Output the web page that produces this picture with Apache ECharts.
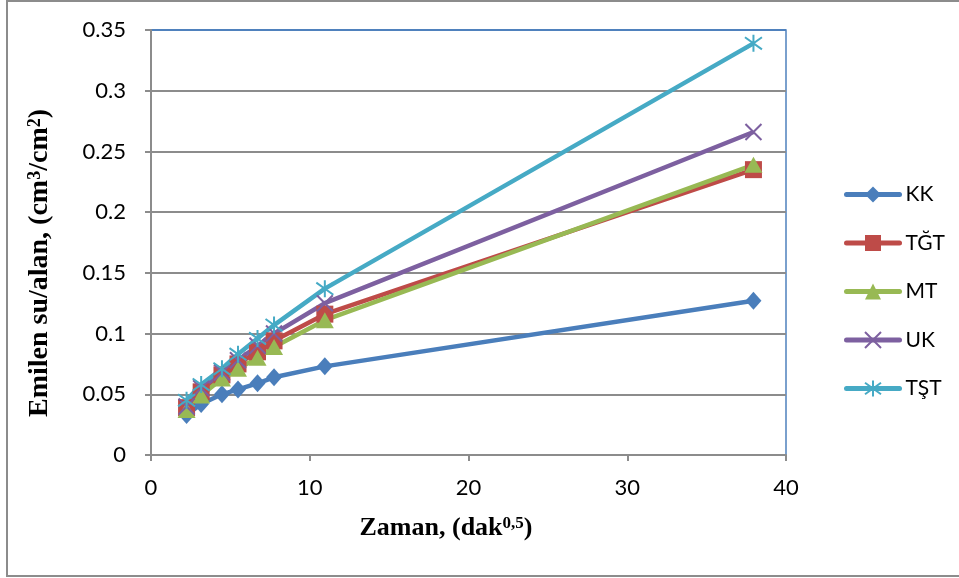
<!DOCTYPE html>
<html>
<head>
<meta charset="utf-8">
<script src="https://cdn.jsdelivr.net/npm/echarts@6/dist/echarts.min.js"></script>
<style>
  html, body { margin: 0; padding: 0; background: #fff; }
  #chart { width: 959px; height: 578px; }
</style>
</head>
<body>
<div id="chart"></div>
<script>
// Square root of elapsed time (dak^0.5)
const zaman = [2.24, 3.16, 4.47, 5.48, 6.71, 7.75, 10.95, 37.95];

// Absorbed water per area (cm3/cm2) for each sample
const KK  = [0.033, 0.042, 0.050, 0.054, 0.059, 0.064, 0.073, 0.127];
const TGT = [0.039, 0.052, 0.066, 0.075, 0.085, 0.094, 0.116, 0.235];
const MT  = [0.037, 0.049, 0.063, 0.071, 0.080, 0.089, 0.111, 0.239];
const UK  = [0.040, 0.055, 0.068, 0.078, 0.090, 0.100, 0.125, 0.266];
const TST = [0.045, 0.058, 0.071, 0.083, 0.096, 0.107, 0.137, 0.339];

const seriesNames = ['KK', 'TĞT', 'MT', 'UK', 'TŞT'];
const seriesValues = [KK, TGT, MT, UK, TST];

const colors = ['#4A7EBB', '#BE4B48', '#98B954', '#7D60A0', '#46AAC5'];
const symbols = [
  'diamond',
  'rect',
  'triangle',
  'path://M0,0L10,10M10,0L0,10',
  'path://M0,0L10,10M10,0L0,10M5,-2L5,12'
];
const symbolSizes = [[16, 18], 17, [18, 16], 16, 17];

const pairs = vals => zaman.map((x, i) => [x, vals[i]]);

const series = seriesNames.map((name, k) => ({
  name: name,
  type: 'line',
  data: pairs(seriesValues[k]),
  symbol: symbols[k],
  symbolSize: symbolSizes[k],
  showAllSymbol: true,
  lineStyle: { color: colors[k], width: 4.5 },
  itemStyle: k >= 3
    ? { color: colors[k], borderColor: colors[k], borderWidth: 2 }
    : { color: colors[k], borderWidth: 0 },
  emphasis: { disabled: true },
  animation: false
}));

// gridline colours: the topmost one coincides with the blue plot border
const gridColors = ['#8C8C8C', '#8C8C8C', '#8C8C8C', '#8C8C8C', '#8C8C8C', '#8C8C8C', '#8C8C8C', '#4F81BD'];

const chart = echarts.init(document.getElementById('chart'), null, { renderer: 'canvas' });
chart.setOption({
  backgroundColor: '#ffffff',
  animation: false,
  textStyle: { fontFamily: 'Lato' },
  grid: {
    left: 151, top: 30, right: 173, bottom: 123,
    show: true, borderColor: '#4F81BD', borderWidth: 1.5, backgroundColor: 'transparent'
  },
  xAxis: {
    type: 'value', min: 0, max: 40, interval: 10,
    axisLine: { show: true, lineStyle: { color: '#8C8C8C', width: 2 } },
    axisTick: { show: true, length: 6, lineStyle: { color: '#8C8C8C', width: 2 } },
    axisLabel: { color: '#000', fontSize: 22, fontFamily: 'Lato', margin: 22 },
    splitLine: { show: false }
  },
  yAxis: {
    type: 'value', min: 0, max: 0.35, interval: 0.05,
    axisLine: { show: true, lineStyle: { color: '#8C8C8C', width: 2 } },
    axisTick: { show: true, length: 6, lineStyle: { color: '#8C8C8C', width: 2 } },
    axisLabel: { color: '#000', fontSize: 22, fontFamily: 'Lato', margin: 25 },
    splitLine: { show: true, lineStyle: { color: gridColors, width: 2 } }
  },
  legend: {
    orient: 'vertical',
    left: 839, top: 179,
    itemWidth: 53, itemHeight: 20, itemGap: 27.5,
    lineStyle: { width: 5, cap: 'round' },
    textStyle: { fontSize: 21, fontFamily: 'Lato', color: '#000', padding: [0, 0, 0, 1] },
    data: seriesNames
  },
  graphic: [
    {
      type: 'rect', silent: true,
      shape: { x: 7, y: 1, width: 970, height: 575 },
      style: { fill: 'none', stroke: '#8C8C8C', lineWidth: 2 }
    },
    {
      type: 'text', silent: true,
      x: 446, y: 528,
      style: {
        text: 'Zaman, (dak{s|0,5})',
        fontFamily: 'Liberation Serif', fontWeight: 'bold', fontSize: 26, fill: '#000',
        align: 'center', verticalAlign: 'middle',
        rich: { s: { fontFamily: 'Liberation Serif', fontWeight: 'bold', fontSize: 17, verticalAlign: 'top', fill: '#000' } }
      }
    },
    {
      type: 'text', silent: true,
      x: 40, y: 263, rotation: Math.PI / 2,
      style: {
        text: 'Emilen su/alan, (cm{s|3}/cm{s|2})',
        fontFamily: 'Liberation Serif', fontWeight: 'bold', fontSize: 28, fill: '#000',
        align: 'center', verticalAlign: 'middle',
        rich: { s: { fontFamily: 'Liberation Serif', fontWeight: 'bold', fontSize: 18, verticalAlign: 'top', fill: '#000' } }
      }
    }
  ],
  series: series
});
</script>
</body>
</html>
